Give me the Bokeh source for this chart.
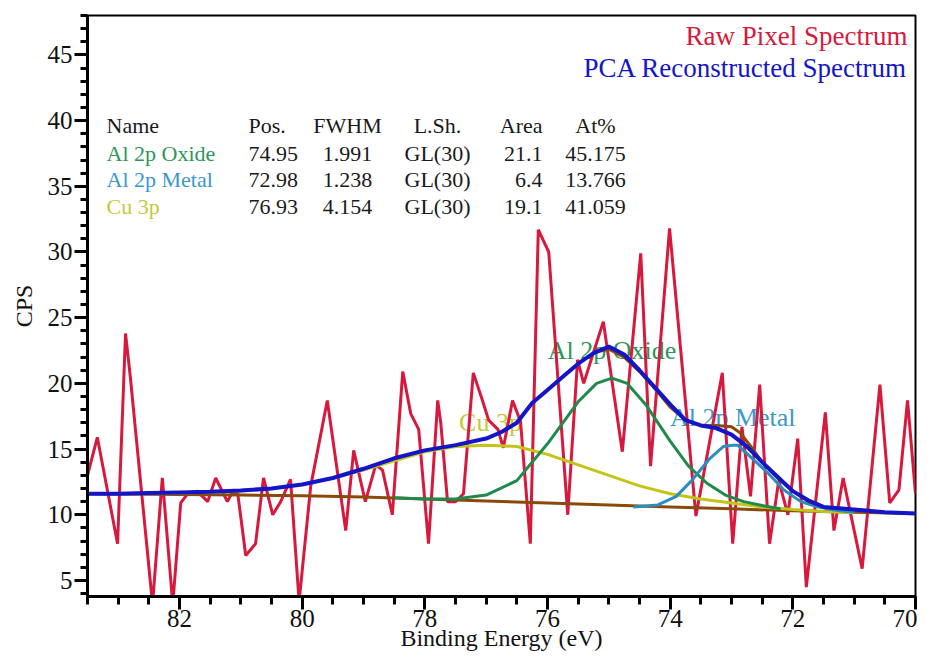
from bokeh.plotting import figure
from bokeh.models import Range1d, FixedTicker, Label
from bokeh.embed import file_html
from bokeh.resources import INLINE

FONT = "Liberation Serif"

# ---------------- data ----------------
raw_be = [83.50, 83.34, 83.01, 82.88, 82.80, 82.44, 82.28, 82.11, 81.98, 81.85,
          81.71, 81.54, 81.41, 81.22, 81.14, 81.05, 80.92, 80.76, 80.63, 80.48,
          80.35, 80.19, 80.05, 79.86, 79.59, 79.29, 79.16, 78.97, 78.80, 78.69,
          78.53, 78.36, 78.23, 78.10, 77.94, 77.79, 77.74, 77.63, 77.50, 77.37,
          77.21, 77.06, 76.96, 76.81, 76.72, 76.57, 76.44, 76.28, 76.15, 75.98,
          75.67, 75.51, 75.41, 75.09, 74.78, 74.48, 74.32, 74.01, 73.58, 73.15,
          72.98, 72.83, 72.69, 72.54, 72.38, 72.23, 72.08, 71.92, 71.78, 71.47,
          71.33, 71.18, 70.87, 70.58, 70.42, 70.27, 70.13, 70.00]
raw_cps = [13.0, 15.9, 7.8, 23.8, 20.4, 3.2, 12.8, 3.2, 10.9, 11.7,
           11.8, 11.0, 12.8, 11.0, 11.7, 11.6, 6.9, 7.8, 12.8, 10.0,
           11.0, 12.7, 3.4, 12.2, 18.7, 8.8, 14.9, 11.0, 13.8, 13.4,
           10.0, 20.9, 17.7, 16.5, 7.8, 18.7, 17.0, 11.0, 11.0, 11.6,
           20.8, 18.7, 17.2, 16.5, 15.1, 18.7, 17.1, 7.8, 31.7, 30.0,
           10.0, 21.8, 20.0, 24.7, 14.8, 29.9, 13.7, 31.8, 9.9, 20.8,
           7.8, 16.7, 11.4, 19.9, 7.8, 12.6, 10.0, 15.8, 4.5, 17.8,
           8.8, 12.8, 5.9, 19.9, 10.9, 11.9, 18.7, 11.6]

pca_be = [83.5, 83.0, 82.5, 82.0, 81.5, 81.0, 80.5, 80.0, 79.5, 79.0,
          78.5, 78.0, 77.5, 77.0, 76.75, 76.5, 76.25, 76.0, 75.75, 75.5,
          75.25, 75.0, 74.75, 74.5, 74.25, 74.0, 73.75, 73.5, 73.25, 73.0,
          72.75, 72.5, 72.25, 72.0, 71.75, 71.5, 71.0, 70.5, 70.0]
pca_cps = [11.6, 11.6, 11.65, 11.7, 11.75, 11.85, 12.0, 12.3, 12.8, 13.5,
           14.3, 14.9, 15.3, 15.8, 16.3, 17.0, 18.5, 19.5, 20.5, 21.5,
           22.3, 22.8, 22.2, 21.0, 19.7, 18.4, 17.2, 16.8, 16.6, 16.1,
           15.2, 14.0, 12.9, 11.8, 11.1, 10.6, 10.4, 10.2, 10.1]

bg_be = [83.5, 82.0, 81.0, 80.0, 79.0, 78.0, 77.0, 76.0, 75.0, 74.0, 73.0, 72.0, 71.0, 70.0]
bg_cps = [11.6, 11.55, 11.5, 11.45, 11.35, 11.2, 11.05, 10.9, 10.75, 10.6, 10.45, 10.3, 10.2, 10.1]

env_be = [75.2, 75.0, 74.75, 74.5, 74.25, 74.0, 73.75, 73.5, 73.25, 73.0,
          72.85, 72.7, 72.5, 72.25, 72.0, 71.75, 71.5]
env_cps = [22.4, 22.6, 22.0, 20.9, 19.6, 18.2, 17.2, 16.8, 16.8, 16.7,
           16.2, 15.3, 14.0, 12.8, 11.8, 11.0, 10.6]

oxide_be = [78.5, 78.0, 77.5, 77.0, 76.5, 76.0, 75.5, 75.2, 74.95, 74.7,
            74.4, 74.0, 73.7, 73.4, 73.1, 72.8, 72.5, 72.2]
oxide_cps = [11.3, 11.2, 11.2, 11.5, 12.6, 15.4, 18.6, 20.0, 20.4, 20.0,
             18.4, 15.6, 13.7, 12.4, 11.5, 11.0, 10.7, 10.45]

metal_be = [74.6, 74.2, 73.9, 73.65, 73.35, 73.13, 72.98, 72.9, 72.69, 72.41,
            72.15, 71.87, 71.6, 71.3, 71.0]
metal_cps = [10.6, 10.75, 11.4, 12.6, 14.3, 15.2, 15.3, 15.3, 14.4, 13.2,
             11.9, 11.0, 10.6, 10.35, 10.2]

cu_be = [83.5, 82.0, 81.0, 80.5, 80.0, 79.5, 79.0, 78.5, 78.0, 77.5,
         77.0, 76.5, 76.0, 75.5, 75.0, 74.5, 74.0, 73.5, 73.0, 72.5,
         72.0, 71.5, 71.0]
cu_cps = [11.6, 11.65, 11.8, 12.0, 12.3, 12.8, 13.4, 14.1, 14.8, 15.2,
          15.3, 15.2, 14.6, 13.8, 13.0, 12.2, 11.6, 11.2, 10.9, 10.6,
          10.4, 10.25, 10.15]

x_ticks = [82, 80, 78, 76, 74, 72, 70]
y_ticks = [5, 10, 15, 20, 25, 30, 35, 40, 45]

# fit table
comp_names = ["Al 2p Oxide", "Al 2p Metal", "Cu 3p"]
comp_pos = [74.95, 72.98, 76.93]
comp_fwhm = [1.991, 1.238, 4.154]
comp_lsh = ["GL(30)", "GL(30)", "GL(30)"]
comp_area = [21.1, 6.4, 19.1]
comp_at = [45.175, 13.766, 41.059]
table_headers = ["Name", "Pos.", "FWHM", "L.Sh.", "Area", "At%"]

# ---------------- styles ----------------
RAW_C = "#D6193C"
PCA_C = "#1414C8"
OXIDE_C = "#1F8A4C"
METAL_C = "#2A8EC0"
CU_C = "#C4C418"
BG_C = "#8B4A0C"
OXIDE_T = "#2E9558"
METAL_T = "#3A98CC"
CU_T = "#C8C83A"

p = figure(width=917, height=654,
           x_range=Range1d(83.5, 70.0), y_range=Range1d(3.78, 48.0),
           output_backend="svg", toolbar_location=None,
           min_border_left=87, min_border_right=2,
           min_border_top=15, min_border_bottom=58)
p.background_fill_color = "white"
p.border_fill_color = "white"
p.grid.visible = False
p.outline_line_color = "black"
p.outline_line_width = 2

minor_x = [83.5 - 0.5 * i for i in range(28)]
minor_y = list(range(4, 49))
p.xaxis.ticker = FixedTicker(ticks=x_ticks, minor_ticks=minor_x)
p.yaxis.ticker = FixedTicker(ticks=y_ticks, minor_ticks=minor_y)

for ax in (p.xaxis, p.yaxis):
    ax.axis_line_width = 3
    ax.axis_line_color = "black"
    ax.major_tick_line_width = 3
    ax.minor_tick_line_width = 3
    ax.major_tick_in = 0
    ax.minor_tick_in = 0
    ax.major_label_text_font = FONT
    ax.major_label_text_font_size = "25px"
    ax.major_label_text_color = "#111111"
    ax.axis_label_text_font = FONT
    ax.axis_label_text_font_size = "24px"
    ax.axis_label_text_font_style = "normal"
    ax.axis_label_text_color = "#111111"

p.xaxis.major_tick_out = 13
p.xaxis.minor_tick_out = 8
p.xaxis.major_label_standoff = 0
p.xaxis.axis_label = "Binding Energy (eV)"
p.xaxis.axis_label_standoff = -5

p.yaxis.major_tick_out = 13
p.yaxis.minor_tick_out = 7
p.yaxis.major_label_standoff = 2
p.yaxis.axis_label = "CPS"
p.yaxis.axis_label_standoff = 8

# component labels above their peaks (drawn beneath the curves)
comp_curves = [oxide_cps, metal_cps, cu_cps]
comp_text_colors = [OXIDE_T, METAL_T, CU_T]
label_lift = [2.1, 2.1, 1.7]
for name, xpos, curve, col, lift in zip(comp_names, comp_pos, comp_curves, comp_text_colors, label_lift):
    p.add_layout(Label(x=xpos, y=max(curve) + lift, text=name, text_align="center",
                       text_baseline="middle", text_font=FONT, text_font_size="26px",
                       text_color=col, level="underlay"))

# curves
p.line(raw_be, raw_cps, line_color=RAW_C, line_width=3)
p.line(bg_be, bg_cps, line_color=BG_C, line_width=3)
p.line(cu_be, cu_cps, line_color=CU_C, line_width=3)
p.line(oxide_be, oxide_cps, line_color=OXIDE_C, line_width=3)
p.line(metal_be, metal_cps, line_color=METAL_C, line_width=3)
p.line(env_be, env_cps, line_color=BG_C, line_width=3)
p.line(pca_be, pca_cps, line_color=PCA_C, line_width=4)

# legend texts (top right)
p.add_layout(Label(x=820, y=561, x_units="screen", y_units="screen", text="Raw Pixel Spectrum",
                   text_align="right", text_baseline="middle", text_font=FONT,
                   text_font_size="27px", text_color=RAW_C))
p.add_layout(Label(x=820, y=529, x_units="screen", y_units="screen", text="PCA Reconstructed Spectrum",
                   text_align="right", text_baseline="middle", text_font=FONT,
                   text_font_size="27px", text_color=PCA_C))

# fit table
col_x = [19, 161, 260, 350, 455, 508]
col_align = ["left", "left", "center", "center", "right", "center"]
row_y = [471, 443, 417, 390]
name_colors = [OXIDE_T, METAL_T, CU_T]
TXT = "#1a1a1a"
for hx, ha, h in zip(col_x, col_align, table_headers):
    p.add_layout(Label(x=hx, y=row_y[0], x_units="screen", y_units="screen", text=h,
                       text_align=ha, text_baseline="middle", text_font=FONT,
                       text_font_size="22px", text_color=TXT))
for i in range(len(comp_names)):
    cells = [comp_names[i], f"{comp_pos[i]:.2f}", f"{comp_fwhm[i]:.3f}", comp_lsh[i],
             f"{comp_area[i]:.1f}", f"{comp_at[i]:.3f}"]
    for j, (cx, ca, c) in enumerate(zip(col_x, col_align, cells)):
        p.add_layout(Label(x=cx, y=row_y[i + 1], x_units="screen", y_units="screen", text=c,
                           text_align=ca, text_baseline="middle", text_font=FONT,
                           text_font_size="22px",
                           text_color=name_colors[i] if j == 0 else TXT))

open("out.html", "w").write(file_html(p, INLINE))
